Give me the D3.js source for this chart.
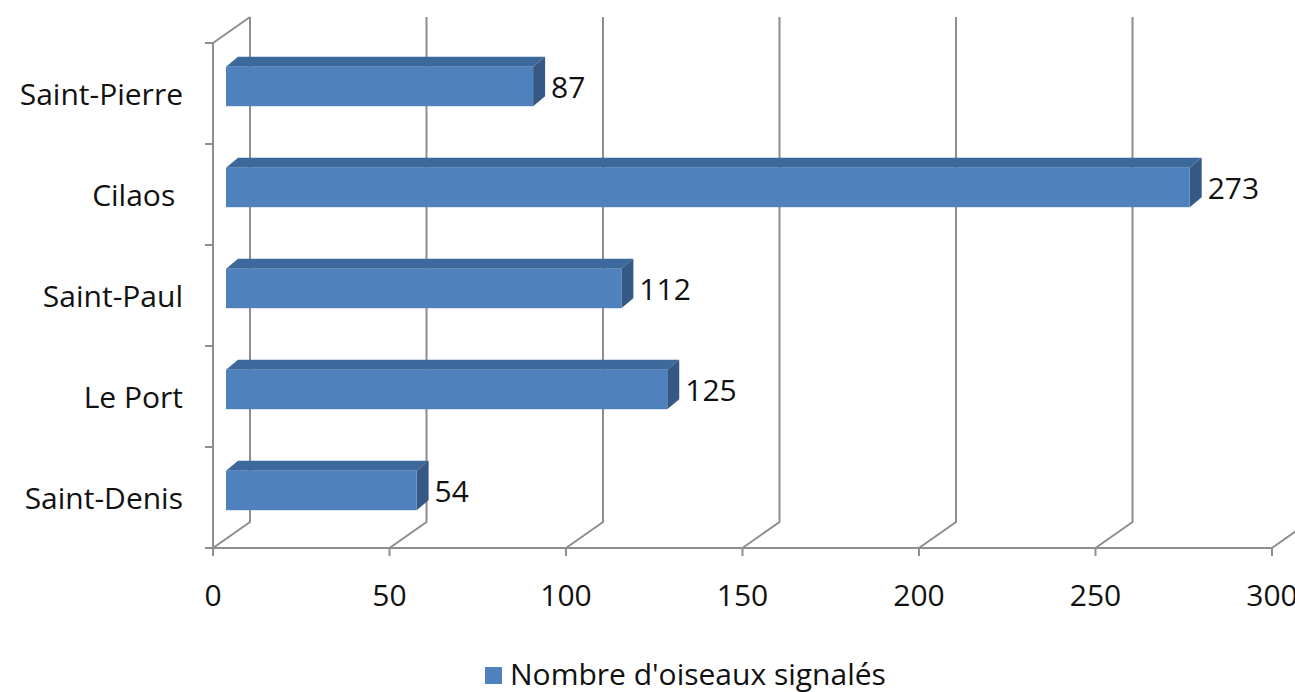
<!DOCTYPE html>
<html>
<head>
<meta charset="utf-8">
<script src="https://cdn.jsdelivr.net/npm/d3@7"></script>
<style>
  body { margin: 0; background: #fff; }
  text { font-family: "Open Sans", sans-serif; fill: #111; white-space: pre; }
</style>
</head>
<body>
<div class="container"></div>
<script>
// data, top to bottom as drawn
const categories = ['Saint-Pierre', 'Cilaos ', 'Saint-Paul', 'Le Port', 'Saint-Denis'];
const values = [87, 273, 112, 125, 54];
const xTicks = [0, 50, 100, 150, 200, 250, 300];
const seriesName = "Nombre d'oiseaux signalés";

const W = 1295, H = 692;
const fs = 30;
const svg = d3.select('.container')
  .append('svg')
  .attr('width', W)
  .attr('height', H);

// front plane scales
const x = d3.scaleLinear().domain([0, 300]).range([213, 1272]);
const y = d3.scaleBand().domain(categories).range([43, 548]);

// depth of the floor / wall
const depthX = 37, depthY = -26;
// bar placement inside the depth
const barOffX = 13, barOffY = -9;
const barDX = 12, barDY = -10;
const barH = y.bandwidth() * 0.39;

const grid = svg.append('g')
  .attr('stroke', '#8e8e8e')
  .attr('stroke-width', 2)
  .attr('fill', 'none');

const yTop = y.range()[0], yBottom = y.range()[1];

// back wall vertical gridlines + floor diagonals
xTicks.forEach(function(t){
  const p = d3.path();
  p.moveTo(x(t), yBottom);
  p.lineTo(x(t) + depthX, yBottom + depthY);
  p.lineTo(x(t) + depthX, yTop + depthY);
  grid.append('path').attr('d', p.toString());
  // tick below axis
  grid.append('line')
    .attr('x1', x(t)).attr('x2', x(t))
    .attr('y1', yBottom).attr('y2', yBottom + 8);
});

// front axes
grid.append('line')
  .attr('x1', x(0)).attr('x2', x(300))
  .attr('y1', yBottom).attr('y2', yBottom);
grid.append('line')
  .attr('x1', x(0)).attr('x2', x(0))
  .attr('y1', yTop).attr('y2', yBottom);
// top left diagonal of the side wall
grid.append('line')
  .attr('x1', x(0)).attr('x2', x(0) + depthX)
  .attr('y1', yTop).attr('y2', yTop + depthY);

// category ticks
const catTicks = categories.map(c => y(c)).concat([yBottom]);
catTicks.forEach(function(ty){
  grid.append('line')
    .attr('x1', x(0) - 8).attr('x2', x(0))
    .attr('y1', ty).attr('y2', ty);
});

// bars
const bars = svg.append('g');
categories.forEach(function(c, i){
  const v = values[i];
  const x0 = x(0) + barOffX, x1 = x(v) + barOffX;
  const yc = y(c) + y.bandwidth() / 2 + barOffY + 2;
  const y0 = yc - barH / 2, y1 = yc + barH / 2;

  // top face
  bars.append('path')
    .attr('d', d3.line()([[x0, y0], [x0 + barDX, y0 + barDY], [x1 + barDX, y0 + barDY], [x1, y0]]) + 'Z')
    .attr('fill', '#3d689c');
  // side face
  bars.append('path')
    .attr('d', d3.line()([[x1, y0], [x1 + barDX, y0 + barDY], [x1 + barDX, y1 + barDY], [x1, y1]]) + 'Z')
    .attr('fill', '#355885');
  // front face
  bars.append('rect')
    .attr('x', x0).attr('y', y0)
    .attr('width', x1 - x0).attr('height', barH)
    .attr('fill', '#4f81bd');

  // value label
  svg.append('text')
    .attr('x', x1 + barDX + 6)
    .attr('y', yc + 1)
    .attr('dy', '0.35em')
    .attr('font-size', fs)
    .text(v);

  // category label
  svg.append('text')
    .attr('x', 183)
    .attr('y', y(c) + y.bandwidth() / 2 + 1)
    .attr('dy', '0.35em')
    .attr('text-anchor', 'end')
    .attr('font-size', fs)
    .text(c);
});

// x tick labels
xTicks.forEach(function(t){
  svg.append('text')
    .attr('x', x(t))
    .attr('y', 595)
    .attr('dy', '0.35em')
    .attr('text-anchor', 'middle')
    .attr('font-size', fs)
    .text(t);
});

// legend
svg.append('rect')
  .attr('x', 485).attr('y', 667)
  .attr('width', 17).attr('height', 17)
  .attr('fill', '#4f81bd');
svg.append('text')
  .attr('x', 510)
  .attr('y', 674)
  .attr('dy', '0.35em')
  .attr('font-size', fs)
  .text(seriesName);
</script>
</body>
</html>
